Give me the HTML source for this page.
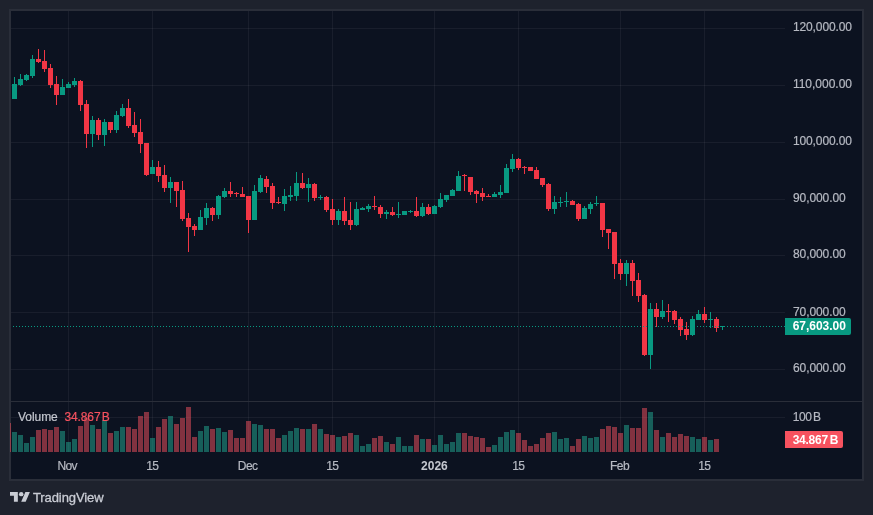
<!DOCTYPE html>
<html lang="en"><head><meta charset="utf-8"><title>TradingView Chart</title>
<style>html,body{margin:0;padding:0;background:#1e222d;overflow:hidden}body{width:873px;height:515px;position:relative}svg{position:absolute;left:0;top:0;display:block}text{font-family:"Liberation Sans",sans-serif;font-size:12px;fill:#b6b9c2;stroke:#b6b9c2;stroke-width:0.2px}.b{font-weight:bold;fill:#fff;stroke:none}</style></head><body>
<svg width="873" height="515" viewBox="0 0 873 515">
<rect x="0" y="0" width="873" height="515" fill="#1e222d"/>
<rect x="9" y="9" width="855" height="472" fill="#2a2e39"/>
<rect x="11" y="11" width="851" height="468" fill="#0c1220"/>
<g shape-rendering="crispEdges">
<rect x="68" y="11" width="1" height="390" fill="rgba(242,242,242,0.06)"/>
<rect x="68" y="402" width="1" height="50" fill="rgba(242,242,242,0.06)"/>
<rect x="152" y="11" width="1" height="390" fill="rgba(242,242,242,0.06)"/>
<rect x="152" y="402" width="1" height="50" fill="rgba(242,242,242,0.06)"/>
<rect x="248" y="11" width="1" height="390" fill="rgba(242,242,242,0.06)"/>
<rect x="248" y="402" width="1" height="50" fill="rgba(242,242,242,0.06)"/>
<rect x="332" y="11" width="1" height="390" fill="rgba(242,242,242,0.06)"/>
<rect x="332" y="402" width="1" height="50" fill="rgba(242,242,242,0.06)"/>
<rect x="434" y="11" width="1" height="390" fill="rgba(242,242,242,0.06)"/>
<rect x="434" y="402" width="1" height="50" fill="rgba(242,242,242,0.06)"/>
<rect x="518" y="11" width="1" height="390" fill="rgba(242,242,242,0.06)"/>
<rect x="518" y="402" width="1" height="50" fill="rgba(242,242,242,0.06)"/>
<rect x="620" y="11" width="1" height="390" fill="rgba(242,242,242,0.06)"/>
<rect x="620" y="402" width="1" height="50" fill="rgba(242,242,242,0.06)"/>
<rect x="704" y="11" width="1" height="390" fill="rgba(242,242,242,0.06)"/>
<rect x="704" y="402" width="1" height="50" fill="rgba(242,242,242,0.06)"/>
<rect x="11" y="28" width="774" height="1" fill="rgba(242,242,242,0.06)"/>
<rect x="11" y="85" width="774" height="1" fill="rgba(242,242,242,0.06)"/>
<rect x="11" y="142" width="774" height="1" fill="rgba(242,242,242,0.06)"/>
<rect x="11" y="199" width="774" height="1" fill="rgba(242,242,242,0.06)"/>
<rect x="11" y="255" width="774" height="1" fill="rgba(242,242,242,0.06)"/>
<rect x="11" y="312" width="774" height="1" fill="rgba(242,242,242,0.06)"/>
<rect x="11" y="369" width="774" height="1" fill="rgba(242,242,242,0.06)"/>
<rect x="11" y="417" width="774" height="1" fill="rgba(242,242,242,0.06)"/>
<rect x="11" y="401" width="851" height="1" fill="#2a2e39"/>
<rect x="10" y="423" width="1" height="29" fill="rgba(247,82,95,0.5)"/>
<rect x="12" y="432" width="5" height="20" fill="rgba(34,171,148,0.5)"/>
<rect x="18" y="435" width="5" height="17" fill="rgba(34,171,148,0.5)"/>
<rect x="24" y="443" width="5" height="9" fill="rgba(34,171,148,0.5)"/>
<rect x="30" y="437" width="5" height="15" fill="rgba(34,171,148,0.5)"/>
<rect x="36" y="430" width="5" height="22" fill="rgba(247,82,95,0.5)"/>
<rect x="42" y="429" width="5" height="23" fill="rgba(247,82,95,0.5)"/>
<rect x="48" y="430" width="5" height="22" fill="rgba(247,82,95,0.5)"/>
<rect x="54" y="427" width="5" height="25" fill="rgba(247,82,95,0.5)"/>
<rect x="60" y="431" width="5" height="21" fill="rgba(34,171,148,0.5)"/>
<rect x="66" y="442" width="5" height="10" fill="rgba(34,171,148,0.5)"/>
<rect x="72" y="439" width="5" height="13" fill="rgba(34,171,148,0.5)"/>
<rect x="78" y="426" width="5" height="26" fill="rgba(247,82,95,0.5)"/>
<rect x="84" y="418" width="5" height="34" fill="rgba(247,82,95,0.5)"/>
<rect x="90" y="425" width="5" height="27" fill="rgba(34,171,148,0.5)"/>
<rect x="96" y="429" width="5" height="23" fill="rgba(247,82,95,0.5)"/>
<rect x="102" y="420" width="5" height="32" fill="rgba(34,171,148,0.5)"/>
<rect x="108" y="433" width="5" height="19" fill="rgba(247,82,95,0.5)"/>
<rect x="114" y="431" width="5" height="21" fill="rgba(34,171,148,0.5)"/>
<rect x="120" y="427" width="5" height="25" fill="rgba(34,171,148,0.5)"/>
<rect x="126" y="427" width="5" height="25" fill="rgba(247,82,95,0.5)"/>
<rect x="132" y="429" width="5" height="23" fill="rgba(247,82,95,0.5)"/>
<rect x="138" y="416" width="5" height="36" fill="rgba(247,82,95,0.5)"/>
<rect x="144" y="412" width="5" height="40" fill="rgba(247,82,95,0.5)"/>
<rect x="150" y="438" width="5" height="14" fill="rgba(34,171,148,0.5)"/>
<rect x="156" y="427" width="5" height="25" fill="rgba(247,82,95,0.5)"/>
<rect x="162" y="419" width="5" height="33" fill="rgba(247,82,95,0.5)"/>
<rect x="168" y="416" width="5" height="36" fill="rgba(34,171,148,0.5)"/>
<rect x="174" y="424" width="5" height="28" fill="rgba(247,82,95,0.5)"/>
<rect x="180" y="418" width="5" height="34" fill="rgba(247,82,95,0.5)"/>
<rect x="186" y="407" width="5" height="45" fill="rgba(247,82,95,0.5)"/>
<rect x="192" y="437" width="5" height="15" fill="rgba(247,82,95,0.5)"/>
<rect x="198" y="431" width="5" height="21" fill="rgba(34,171,148,0.5)"/>
<rect x="204" y="426" width="5" height="26" fill="rgba(34,171,148,0.5)"/>
<rect x="210" y="429" width="5" height="23" fill="rgba(247,82,95,0.5)"/>
<rect x="216" y="428" width="5" height="24" fill="rgba(34,171,148,0.5)"/>
<rect x="222" y="432" width="5" height="20" fill="rgba(34,171,148,0.5)"/>
<rect x="228" y="430" width="5" height="22" fill="rgba(247,82,95,0.5)"/>
<rect x="234" y="438" width="5" height="14" fill="rgba(247,82,95,0.5)"/>
<rect x="240" y="438" width="5" height="14" fill="rgba(247,82,95,0.5)"/>
<rect x="246" y="421" width="5" height="31" fill="rgba(247,82,95,0.5)"/>
<rect x="252" y="424" width="5" height="28" fill="rgba(34,171,148,0.5)"/>
<rect x="258" y="425" width="5" height="27" fill="rgba(34,171,148,0.5)"/>
<rect x="264" y="429" width="5" height="23" fill="rgba(247,82,95,0.5)"/>
<rect x="270" y="429" width="5" height="23" fill="rgba(247,82,95,0.5)"/>
<rect x="276" y="438" width="5" height="14" fill="rgba(247,82,95,0.5)"/>
<rect x="282" y="435" width="5" height="17" fill="rgba(34,171,148,0.5)"/>
<rect x="288" y="431" width="5" height="21" fill="rgba(34,171,148,0.5)"/>
<rect x="294" y="428" width="5" height="24" fill="rgba(34,171,148,0.5)"/>
<rect x="300" y="429" width="5" height="23" fill="rgba(247,82,95,0.5)"/>
<rect x="306" y="429" width="5" height="23" fill="rgba(34,171,148,0.5)"/>
<rect x="312" y="424" width="5" height="28" fill="rgba(247,82,95,0.5)"/>
<rect x="318" y="429" width="5" height="23" fill="rgba(34,171,148,0.5)"/>
<rect x="324" y="434" width="5" height="18" fill="rgba(247,82,95,0.5)"/>
<rect x="330" y="435" width="5" height="17" fill="rgba(247,82,95,0.5)"/>
<rect x="336" y="437" width="5" height="15" fill="rgba(34,171,148,0.5)"/>
<rect x="342" y="436" width="5" height="16" fill="rgba(247,82,95,0.5)"/>
<rect x="348" y="433" width="5" height="19" fill="rgba(247,82,95,0.5)"/>
<rect x="354" y="435" width="5" height="17" fill="rgba(34,171,148,0.5)"/>
<rect x="360" y="446" width="5" height="6" fill="rgba(34,171,148,0.5)"/>
<rect x="366" y="444" width="5" height="8" fill="rgba(34,171,148,0.5)"/>
<rect x="372" y="438" width="5" height="14" fill="rgba(247,82,95,0.5)"/>
<rect x="378" y="436" width="5" height="16" fill="rgba(247,82,95,0.5)"/>
<rect x="384" y="442" width="5" height="10" fill="rgba(34,171,148,0.5)"/>
<rect x="390" y="444" width="5" height="8" fill="rgba(247,82,95,0.5)"/>
<rect x="396" y="437" width="5" height="15" fill="rgba(34,171,148,0.5)"/>
<rect x="402" y="446" width="5" height="6" fill="rgba(34,171,148,0.5)"/>
<rect x="408" y="446" width="5" height="6" fill="rgba(34,171,148,0.5)"/>
<rect x="414" y="435" width="5" height="17" fill="rgba(247,82,95,0.5)"/>
<rect x="420" y="439" width="5" height="13" fill="rgba(34,171,148,0.5)"/>
<rect x="426" y="439" width="5" height="13" fill="rgba(247,82,95,0.5)"/>
<rect x="432" y="445" width="5" height="7" fill="rgba(34,171,148,0.5)"/>
<rect x="438" y="435" width="5" height="17" fill="rgba(34,171,148,0.5)"/>
<rect x="444" y="444" width="5" height="8" fill="rgba(34,171,148,0.5)"/>
<rect x="450" y="442" width="5" height="10" fill="rgba(34,171,148,0.5)"/>
<rect x="456" y="433" width="5" height="19" fill="rgba(34,171,148,0.5)"/>
<rect x="462" y="433" width="5" height="19" fill="rgba(247,82,95,0.5)"/>
<rect x="468" y="436" width="5" height="16" fill="rgba(247,82,95,0.5)"/>
<rect x="474" y="437" width="5" height="15" fill="rgba(247,82,95,0.5)"/>
<rect x="480" y="438" width="5" height="14" fill="rgba(247,82,95,0.5)"/>
<rect x="486" y="447" width="5" height="5" fill="rgba(247,82,95,0.5)"/>
<rect x="492" y="445" width="5" height="7" fill="rgba(34,171,148,0.5)"/>
<rect x="498" y="437" width="5" height="15" fill="rgba(34,171,148,0.5)"/>
<rect x="504" y="432" width="5" height="20" fill="rgba(34,171,148,0.5)"/>
<rect x="510" y="430" width="5" height="22" fill="rgba(34,171,148,0.5)"/>
<rect x="516" y="433" width="5" height="19" fill="rgba(247,82,95,0.5)"/>
<rect x="522" y="440" width="5" height="12" fill="rgba(247,82,95,0.5)"/>
<rect x="528" y="446" width="5" height="6" fill="rgba(247,82,95,0.5)"/>
<rect x="534" y="444" width="5" height="8" fill="rgba(247,82,95,0.5)"/>
<rect x="540" y="438" width="5" height="14" fill="rgba(247,82,95,0.5)"/>
<rect x="546" y="433" width="5" height="19" fill="rgba(247,82,95,0.5)"/>
<rect x="552" y="432" width="5" height="20" fill="rgba(34,171,148,0.5)"/>
<rect x="558" y="439" width="5" height="13" fill="rgba(34,171,148,0.5)"/>
<rect x="564" y="438" width="5" height="14" fill="rgba(34,171,148,0.5)"/>
<rect x="570" y="446" width="5" height="6" fill="rgba(247,82,95,0.5)"/>
<rect x="576" y="439" width="5" height="13" fill="rgba(247,82,95,0.5)"/>
<rect x="582" y="436" width="5" height="16" fill="rgba(34,171,148,0.5)"/>
<rect x="588" y="438" width="5" height="14" fill="rgba(34,171,148,0.5)"/>
<rect x="594" y="437" width="5" height="15" fill="rgba(34,171,148,0.5)"/>
<rect x="600" y="429" width="5" height="23" fill="rgba(247,82,95,0.5)"/>
<rect x="606" y="426" width="5" height="26" fill="rgba(247,82,95,0.5)"/>
<rect x="612" y="427" width="5" height="25" fill="rgba(247,82,95,0.5)"/>
<rect x="618" y="433" width="5" height="19" fill="rgba(247,82,95,0.5)"/>
<rect x="624" y="425" width="5" height="27" fill="rgba(34,171,148,0.5)"/>
<rect x="630" y="428" width="5" height="24" fill="rgba(247,82,95,0.5)"/>
<rect x="636" y="428" width="5" height="24" fill="rgba(247,82,95,0.5)"/>
<rect x="642" y="408" width="5" height="44" fill="rgba(247,82,95,0.5)"/>
<rect x="648" y="412" width="5" height="40" fill="rgba(34,171,148,0.5)"/>
<rect x="654" y="430" width="5" height="22" fill="rgba(247,82,95,0.5)"/>
<rect x="660" y="437" width="5" height="15" fill="rgba(34,171,148,0.5)"/>
<rect x="666" y="433" width="5" height="19" fill="rgba(247,82,95,0.5)"/>
<rect x="672" y="437" width="5" height="15" fill="rgba(247,82,95,0.5)"/>
<rect x="678" y="434" width="5" height="18" fill="rgba(247,82,95,0.5)"/>
<rect x="684" y="436" width="5" height="16" fill="rgba(247,82,95,0.5)"/>
<rect x="690" y="437" width="5" height="15" fill="rgba(34,171,148,0.5)"/>
<rect x="696" y="439" width="5" height="13" fill="rgba(34,171,148,0.5)"/>
<rect x="702" y="437" width="5" height="15" fill="rgba(247,82,95,0.5)"/>
<rect x="708" y="440" width="5" height="12" fill="rgba(34,171,148,0.5)"/>
<rect x="714" y="439" width="5" height="13" fill="rgba(247,82,95,0.5)"/>
<rect x="14" y="77" width="1" height="22" fill="#089981"/>
<rect x="12" y="84" width="5" height="15" fill="#089981"/>
<rect x="20" y="74" width="1" height="12" fill="#089981"/>
<rect x="18" y="79" width="5" height="6" fill="#089981"/>
<rect x="26" y="74" width="1" height="7" fill="#089981"/>
<rect x="24" y="75" width="5" height="5" fill="#089981"/>
<rect x="32" y="55" width="1" height="23" fill="#089981"/>
<rect x="30" y="59" width="5" height="17" fill="#089981"/>
<rect x="38" y="49" width="1" height="14" fill="#f23645"/>
<rect x="36" y="59" width="5" height="3" fill="#f23645"/>
<rect x="44" y="50" width="1" height="22" fill="#f23645"/>
<rect x="42" y="61" width="5" height="8" fill="#f23645"/>
<rect x="50" y="64" width="1" height="24" fill="#f23645"/>
<rect x="48" y="68" width="5" height="17" fill="#f23645"/>
<rect x="56" y="76" width="1" height="29" fill="#f23645"/>
<rect x="54" y="84" width="5" height="11" fill="#f23645"/>
<rect x="62" y="79" width="1" height="16" fill="#089981"/>
<rect x="60" y="87" width="5" height="8" fill="#089981"/>
<rect x="68" y="82" width="1" height="6" fill="#089981"/>
<rect x="66" y="84" width="5" height="4" fill="#089981"/>
<rect x="74" y="78" width="1" height="9" fill="#089981"/>
<rect x="72" y="81" width="5" height="4" fill="#089981"/>
<rect x="80" y="80" width="1" height="31" fill="#f23645"/>
<rect x="78" y="81" width="5" height="24" fill="#f23645"/>
<rect x="86" y="100" width="1" height="48" fill="#f23645"/>
<rect x="84" y="104" width="5" height="30" fill="#f23645"/>
<rect x="92" y="116" width="1" height="31" fill="#089981"/>
<rect x="90" y="120" width="5" height="14" fill="#089981"/>
<rect x="98" y="118" width="1" height="22" fill="#f23645"/>
<rect x="96" y="120" width="5" height="15" fill="#f23645"/>
<rect x="104" y="119" width="1" height="27" fill="#089981"/>
<rect x="102" y="122" width="5" height="13" fill="#089981"/>
<rect x="110" y="122" width="1" height="11" fill="#f23645"/>
<rect x="108" y="122" width="5" height="8" fill="#f23645"/>
<rect x="116" y="111" width="1" height="22" fill="#089981"/>
<rect x="114" y="115" width="5" height="15" fill="#089981"/>
<rect x="122" y="104" width="1" height="13" fill="#089981"/>
<rect x="120" y="108" width="5" height="8" fill="#089981"/>
<rect x="128" y="99" width="1" height="29" fill="#f23645"/>
<rect x="126" y="108" width="5" height="18" fill="#f23645"/>
<rect x="134" y="112" width="1" height="25" fill="#f23645"/>
<rect x="132" y="125" width="5" height="8" fill="#f23645"/>
<rect x="140" y="119" width="1" height="34" fill="#f23645"/>
<rect x="138" y="132" width="5" height="12" fill="#f23645"/>
<rect x="146" y="143" width="1" height="33" fill="#f23645"/>
<rect x="144" y="143" width="5" height="32" fill="#f23645"/>
<rect x="152" y="160" width="1" height="14" fill="#089981"/>
<rect x="150" y="167" width="5" height="7" fill="#089981"/>
<rect x="158" y="161" width="1" height="21" fill="#f23645"/>
<rect x="156" y="167" width="5" height="9" fill="#f23645"/>
<rect x="164" y="165" width="1" height="27" fill="#f23645"/>
<rect x="162" y="175" width="5" height="13" fill="#f23645"/>
<rect x="170" y="177" width="1" height="26" fill="#089981"/>
<rect x="168" y="182" width="5" height="6" fill="#089981"/>
<rect x="176" y="182" width="1" height="25" fill="#f23645"/>
<rect x="174" y="182" width="5" height="9" fill="#f23645"/>
<rect x="182" y="181" width="1" height="40" fill="#f23645"/>
<rect x="180" y="190" width="5" height="29" fill="#f23645"/>
<rect x="188" y="213" width="1" height="39" fill="#f23645"/>
<rect x="186" y="218" width="5" height="9" fill="#f23645"/>
<rect x="194" y="224" width="1" height="12" fill="#f23645"/>
<rect x="192" y="226" width="5" height="4" fill="#f23645"/>
<rect x="200" y="210" width="1" height="20" fill="#089981"/>
<rect x="198" y="217" width="5" height="13" fill="#089981"/>
<rect x="206" y="203" width="1" height="22" fill="#089981"/>
<rect x="204" y="208" width="5" height="10" fill="#089981"/>
<rect x="212" y="207" width="1" height="14" fill="#f23645"/>
<rect x="210" y="208" width="5" height="7" fill="#f23645"/>
<rect x="218" y="195" width="1" height="24" fill="#089981"/>
<rect x="216" y="196" width="5" height="19" fill="#089981"/>
<rect x="224" y="188" width="1" height="10" fill="#089981"/>
<rect x="222" y="191" width="5" height="6" fill="#089981"/>
<rect x="230" y="182" width="1" height="15" fill="#f23645"/>
<rect x="228" y="191" width="5" height="3" fill="#f23645"/>
<rect x="236" y="192" width="1" height="5" fill="#f23645"/>
<rect x="234" y="193" width="5" height="1" fill="#f23645"/>
<rect x="242" y="187" width="1" height="10" fill="#f23645"/>
<rect x="240" y="194" width="5" height="3" fill="#f23645"/>
<rect x="248" y="196" width="1" height="37" fill="#f23645"/>
<rect x="246" y="196" width="5" height="24" fill="#f23645"/>
<rect x="254" y="185" width="1" height="35" fill="#089981"/>
<rect x="252" y="191" width="5" height="29" fill="#089981"/>
<rect x="260" y="175" width="1" height="18" fill="#089981"/>
<rect x="258" y="178" width="5" height="14" fill="#089981"/>
<rect x="266" y="176" width="1" height="17" fill="#f23645"/>
<rect x="264" y="179" width="5" height="8" fill="#f23645"/>
<rect x="272" y="183" width="1" height="26" fill="#f23645"/>
<rect x="270" y="186" width="5" height="17" fill="#f23645"/>
<rect x="278" y="197" width="1" height="7" fill="#f23645"/>
<rect x="276" y="202" width="5" height="1" fill="#f23645"/>
<rect x="284" y="189" width="1" height="22" fill="#089981"/>
<rect x="282" y="196" width="5" height="8" fill="#089981"/>
<rect x="290" y="186" width="1" height="15" fill="#089981"/>
<rect x="288" y="195" width="5" height="2" fill="#089981"/>
<rect x="296" y="172" width="1" height="29" fill="#089981"/>
<rect x="294" y="183" width="5" height="13" fill="#089981"/>
<rect x="302" y="173" width="1" height="16" fill="#f23645"/>
<rect x="300" y="183" width="5" height="5" fill="#f23645"/>
<rect x="308" y="178" width="1" height="24" fill="#089981"/>
<rect x="306" y="184" width="5" height="4" fill="#089981"/>
<rect x="314" y="183" width="1" height="18" fill="#f23645"/>
<rect x="312" y="184" width="5" height="14" fill="#f23645"/>
<rect x="320" y="195" width="1" height="5" fill="#089981"/>
<rect x="318" y="197" width="5" height="1" fill="#089981"/>
<rect x="326" y="196" width="1" height="16" fill="#f23645"/>
<rect x="324" y="197" width="5" height="13" fill="#f23645"/>
<rect x="332" y="199" width="1" height="26" fill="#f23645"/>
<rect x="330" y="209" width="5" height="11" fill="#f23645"/>
<rect x="338" y="209" width="1" height="16" fill="#089981"/>
<rect x="336" y="211" width="5" height="9" fill="#089981"/>
<rect x="344" y="197" width="1" height="28" fill="#f23645"/>
<rect x="342" y="211" width="5" height="10" fill="#f23645"/>
<rect x="350" y="202" width="1" height="28" fill="#f23645"/>
<rect x="348" y="220" width="5" height="5" fill="#f23645"/>
<rect x="356" y="202" width="1" height="24" fill="#089981"/>
<rect x="354" y="209" width="5" height="16" fill="#089981"/>
<rect x="362" y="207" width="1" height="3" fill="#089981"/>
<rect x="360" y="208" width="5" height="2" fill="#089981"/>
<rect x="368" y="204" width="1" height="8" fill="#089981"/>
<rect x="366" y="206" width="5" height="3" fill="#089981"/>
<rect x="374" y="196" width="1" height="14" fill="#f23645"/>
<rect x="372" y="206" width="5" height="1" fill="#f23645"/>
<rect x="380" y="205" width="1" height="13" fill="#f23645"/>
<rect x="378" y="207" width="5" height="7" fill="#f23645"/>
<rect x="386" y="210" width="1" height="9" fill="#089981"/>
<rect x="384" y="212" width="5" height="2" fill="#089981"/>
<rect x="392" y="207" width="1" height="9" fill="#f23645"/>
<rect x="390" y="212" width="5" height="3" fill="#f23645"/>
<rect x="398" y="202" width="1" height="16" fill="#089981"/>
<rect x="396" y="214" width="5" height="1" fill="#089981"/>
<rect x="402" y="211" width="5" height="4" fill="#089981"/>
<rect x="410" y="210" width="1" height="3" fill="#089981"/>
<rect x="408" y="211" width="5" height="1" fill="#089981"/>
<rect x="416" y="197" width="1" height="20" fill="#f23645"/>
<rect x="414" y="211" width="5" height="5" fill="#f23645"/>
<rect x="422" y="203" width="1" height="14" fill="#089981"/>
<rect x="420" y="207" width="5" height="9" fill="#089981"/>
<rect x="428" y="204" width="1" height="11" fill="#f23645"/>
<rect x="426" y="207" width="5" height="7" fill="#f23645"/>
<rect x="434" y="205" width="1" height="9" fill="#089981"/>
<rect x="432" y="206" width="5" height="8" fill="#089981"/>
<rect x="440" y="193" width="1" height="15" fill="#089981"/>
<rect x="438" y="199" width="5" height="8" fill="#089981"/>
<rect x="446" y="195" width="1" height="7" fill="#089981"/>
<rect x="444" y="195" width="5" height="5" fill="#089981"/>
<rect x="452" y="189" width="1" height="7" fill="#089981"/>
<rect x="450" y="190" width="5" height="6" fill="#089981"/>
<rect x="458" y="171" width="1" height="20" fill="#089981"/>
<rect x="456" y="176" width="5" height="15" fill="#089981"/>
<rect x="464" y="174" width="1" height="17" fill="#f23645"/>
<rect x="462" y="175" width="5" height="1" fill="#f23645"/>
<rect x="470" y="177" width="1" height="18" fill="#f23645"/>
<rect x="468" y="177" width="5" height="15" fill="#f23645"/>
<rect x="476" y="190" width="1" height="13" fill="#f23645"/>
<rect x="474" y="191" width="5" height="3" fill="#f23645"/>
<rect x="482" y="188" width="1" height="13" fill="#f23645"/>
<rect x="480" y="193" width="5" height="4" fill="#f23645"/>
<rect x="488" y="194" width="1" height="3" fill="#f23645"/>
<rect x="486" y="196" width="5" height="1" fill="#f23645"/>
<rect x="494" y="192" width="1" height="5" fill="#089981"/>
<rect x="492" y="194" width="5" height="3" fill="#089981"/>
<rect x="500" y="185" width="1" height="13" fill="#089981"/>
<rect x="498" y="192" width="5" height="3" fill="#089981"/>
<rect x="506" y="164" width="1" height="29" fill="#089981"/>
<rect x="504" y="168" width="5" height="25" fill="#089981"/>
<rect x="512" y="154" width="1" height="18" fill="#089981"/>
<rect x="510" y="159" width="5" height="10" fill="#089981"/>
<rect x="518" y="158" width="1" height="12" fill="#f23645"/>
<rect x="516" y="159" width="5" height="9" fill="#f23645"/>
<rect x="524" y="166" width="1" height="8" fill="#f23645"/>
<rect x="522" y="167" width="5" height="1" fill="#f23645"/>
<rect x="528" y="167" width="5" height="4" fill="#f23645"/>
<rect x="536" y="167" width="1" height="12" fill="#f23645"/>
<rect x="534" y="170" width="5" height="9" fill="#f23645"/>
<rect x="542" y="178" width="1" height="9" fill="#f23645"/>
<rect x="540" y="178" width="5" height="7" fill="#f23645"/>
<rect x="548" y="183" width="1" height="28" fill="#f23645"/>
<rect x="546" y="184" width="5" height="25" fill="#f23645"/>
<rect x="554" y="196" width="1" height="18" fill="#089981"/>
<rect x="552" y="202" width="5" height="7" fill="#089981"/>
<rect x="560" y="197" width="1" height="10" fill="#089981"/>
<rect x="558" y="202" width="5" height="1" fill="#089981"/>
<rect x="566" y="192" width="1" height="15" fill="#089981"/>
<rect x="564" y="201" width="5" height="1" fill="#089981"/>
<rect x="572" y="200" width="1" height="5" fill="#f23645"/>
<rect x="570" y="201" width="5" height="4" fill="#f23645"/>
<rect x="578" y="203" width="1" height="18" fill="#f23645"/>
<rect x="576" y="204" width="5" height="15" fill="#f23645"/>
<rect x="584" y="206" width="1" height="13" fill="#089981"/>
<rect x="582" y="208" width="5" height="11" fill="#089981"/>
<rect x="590" y="202" width="1" height="12" fill="#089981"/>
<rect x="588" y="204" width="5" height="5" fill="#089981"/>
<rect x="596" y="196" width="1" height="10" fill="#089981"/>
<rect x="594" y="203" width="5" height="1" fill="#089981"/>
<rect x="602" y="203" width="1" height="34" fill="#f23645"/>
<rect x="600" y="203" width="5" height="27" fill="#f23645"/>
<rect x="608" y="229" width="1" height="20" fill="#f23645"/>
<rect x="606" y="229" width="5" height="4" fill="#f23645"/>
<rect x="614" y="232" width="1" height="47" fill="#f23645"/>
<rect x="612" y="232" width="5" height="32" fill="#f23645"/>
<rect x="620" y="259" width="1" height="21" fill="#f23645"/>
<rect x="618" y="263" width="5" height="11" fill="#f23645"/>
<rect x="626" y="260" width="1" height="26" fill="#089981"/>
<rect x="624" y="263" width="5" height="11" fill="#089981"/>
<rect x="632" y="260" width="1" height="36" fill="#f23645"/>
<rect x="630" y="263" width="5" height="18" fill="#f23645"/>
<rect x="638" y="273" width="1" height="29" fill="#f23645"/>
<rect x="636" y="280" width="5" height="16" fill="#f23645"/>
<rect x="644" y="294" width="1" height="62" fill="#f23645"/>
<rect x="642" y="295" width="5" height="60" fill="#f23645"/>
<rect x="650" y="303" width="1" height="66" fill="#089981"/>
<rect x="648" y="309" width="5" height="46" fill="#089981"/>
<rect x="656" y="303" width="1" height="24" fill="#f23645"/>
<rect x="654" y="309" width="5" height="8" fill="#f23645"/>
<rect x="662" y="300" width="1" height="19" fill="#089981"/>
<rect x="660" y="311" width="5" height="6" fill="#089981"/>
<rect x="668" y="304" width="1" height="18" fill="#f23645"/>
<rect x="666" y="311" width="5" height="1" fill="#f23645"/>
<rect x="674" y="310" width="1" height="14" fill="#f23645"/>
<rect x="672" y="311" width="5" height="9" fill="#f23645"/>
<rect x="680" y="317" width="1" height="19" fill="#f23645"/>
<rect x="678" y="319" width="5" height="11" fill="#f23645"/>
<rect x="686" y="322" width="1" height="18" fill="#f23645"/>
<rect x="684" y="329" width="5" height="6" fill="#f23645"/>
<rect x="692" y="316" width="1" height="20" fill="#089981"/>
<rect x="690" y="319" width="5" height="16" fill="#089981"/>
<rect x="698" y="310" width="1" height="10" fill="#089981"/>
<rect x="696" y="314" width="5" height="6" fill="#089981"/>
<rect x="704" y="307" width="1" height="16" fill="#f23645"/>
<rect x="702" y="314" width="5" height="6" fill="#f23645"/>
<rect x="710" y="312" width="1" height="16" fill="#089981"/>
<rect x="708" y="319" width="5" height="1" fill="#089981"/>
<rect x="716" y="317" width="1" height="15" fill="#f23645"/>
<rect x="714" y="319" width="5" height="9" fill="#f23645"/>
<rect x="722" y="326" width="1" height="4" fill="#089981"/>
<rect x="720" y="326" width="5" height="1" fill="#089981"/>
<path d="M13 326.5H785" stroke="#089981" stroke-width="1" stroke-dasharray="1 2" fill="none"/>
</g>
<text x="792.9" y="30.8" textLength="59.1" lengthAdjust="spacing">120,000.00</text>
<text x="792.9" y="88.2" textLength="59.1" lengthAdjust="spacing">110,000.00</text>
<text x="792.9" y="145.4" textLength="59.1" lengthAdjust="spacing">100,000.00</text>
<text x="792.9" y="202" textLength="52.9" lengthAdjust="spacing">90,000.00</text>
<text x="792.9" y="258.3" textLength="52.9" lengthAdjust="spacing">80,000.00</text>
<text x="792.9" y="315.7" textLength="52.9" lengthAdjust="spacing">70,000.00</text>
<text x="792.9" y="372.3" textLength="52.9" lengthAdjust="spacing">60,000.00</text>
<text x="792.8" y="421" letter-spacing="-0.5">100</text><text x="812.9" y="421">B</text>
<path d="M785 318h64a2 2 0 0 1 2 2v13a2 2 0 0 1-2 2h-64z" fill="#089981"/>
<text class="b" x="792.7" y="330" textLength="53.2" lengthAdjust="spacing">67,603.00</text>
<path d="M785 431h56a2 2 0 0 1 2 2v13a2 2 0 0 1-2 2h-56z" fill="#f7525f"/>
<text class="b" x="792.7" y="444" letter-spacing="-0.25">34.867</text><text class="b" x="829.8" y="444">B</text>
<text x="18" y="421" letter-spacing="-0.05" style="fill:#c4c7cf;stroke:#c4c7cf">Volume</text>
<text x="64.4" y="421" style="fill:#f7525f;stroke:#f7525f" letter-spacing="-0.1">34.867</text><text x="101.8" y="421" style="fill:#f7525f;stroke:#f7525f">B</text>
<text x="67.2" y="470" text-anchor="middle" letter-spacing="-0.6">Nov</text>
<text x="152.3" y="470" text-anchor="middle" letter-spacing="-0.7">15</text>
<text x="247.6" y="470" text-anchor="middle" letter-spacing="-0.6">Dec</text>
<text x="332.3" y="470" text-anchor="middle" letter-spacing="-0.7">15</text>
<text x="434.4" y="470" text-anchor="middle" letter-spacing="0" font-weight="bold" style="stroke:none;fill:#c4c7cf">2026</text>
<text x="518.3" y="470" text-anchor="middle" letter-spacing="-0.7">15</text>
<text x="619.6" y="470" text-anchor="middle" letter-spacing="-0.5">Feb</text>
<text x="704.3" y="470" text-anchor="middle" letter-spacing="-0.7">15</text>
<g transform="translate(10,489.8) scale(0.56,0.546)" fill="#c9ccd4"><path d="M14 22H7V11H0V4h14v18zM28 22h-8l7.5-18h8L28 22z"/><circle cx="20" cy="8" r="4"/></g>
<text x="33.0" y="501.7" style="font-size:13px;fill:#c9ccd4;stroke:#c9ccd4;stroke-width:0.3px" letter-spacing="-0.1">TradingView</text>
</svg></body></html>
